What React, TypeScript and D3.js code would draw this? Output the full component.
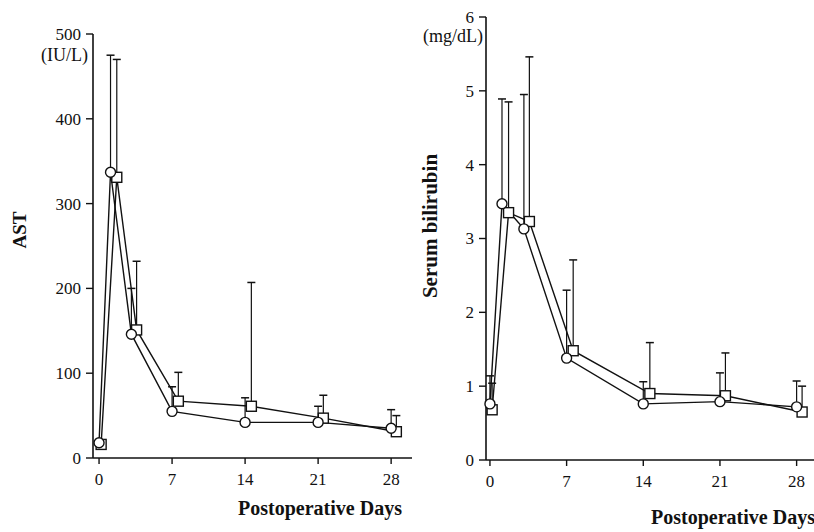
import React from 'react';
import * as d3 from 'd3';

// days at which each group was plotted (squares are nudged right in the original)
const circleDays = [0, 1.1, 3.1, 7, 14, 21, 28];
const squareDays = [0.2, 1.7, 3.6, 7.6, 14.6, 21.5, 28.5];
const dayTicks = [0, 7, 14, 21, 28];

// AST (IU/L)
const astCircle = [18, 337, 146, 55, 42, 42, 35];
const astCircleErr = [18, 475, 200, 84, 71, 61, 57];
const astSquare = [16, 331, 151, 67, 61, 47, 31];
const astSquareErr = [16, 470, 232, 101, 207, 74, 50];
const astTicks = [0, 100, 200, 300, 400, 500];

// Serum bilirubin (mg/dL)
const bilCircle = [0.76, 3.47, 3.13, 1.38, 0.76, 0.79, 0.72];
const bilCircleErr = [1.14, 4.89, 4.95, 2.3, 1.06, 1.18, 1.07];
const bilSquare = [0.68, 3.35, 3.23, 1.48, 0.9, 0.87, 0.65];
const bilSquareErr = [1.04, 4.85, 5.46, 2.71, 1.59, 1.45, 1.0];
const bilTicks = [0, 1, 2, 3, 4, 5, 6];

const config = {
    font: '"Liberation Serif", "Times New Roman", serif',
    stroke: '#111',
    capHalf: 4,
    circleR: 5,
    squareSize: 10
};

function Panel(props) {
    const { xDomain, xRange, yDomain, yRange, yTicks, unit, unitPos, title, titlePos, titleSize, xTitlePos,
        cVals, cErr, sVals, sErr } = props;
    const x = d3.scaleLinear().domain(xDomain).range(xRange);
    const y = d3.scaleLinear().domain(yDomain).range(yRange);
    const line = d3.line().x(d => x(d[0])).y(d => y(d[1]));
    const cPts = circleDays.map((d, i) => [d, cVals[i]]);
    const sPts = squareDays.map((d, i) => [d, sVals[i]]);
    const axisX = xRange[0];
    const axisY = y(yDomain[0]);
    const f = config.font;
    const st = config.stroke;

    const errBar = (d, v, e, key) => (
        <g key={key}>
            <line x1={x(d)} x2={x(d)} y1={y(v)} y2={y(e)} stroke={st} strokeWidth={1.2} />
            <line x1={x(d) - config.capHalf} x2={x(d) + config.capHalf} y1={y(e)} y2={y(e)} stroke={st} strokeWidth={1.5} />
        </g>
    );

    return (
        <g>
            {/* y axis */}
            <line x1={axisX} x2={axisX} y1={y(yDomain[0])} y2={y(yDomain[1])} stroke={st} strokeWidth={1.6} />
            {yTicks.map(t => (
                <g key={t}>
                    <line x1={axisX - 7} x2={axisX} y1={y(t)} y2={y(t)} stroke={st} strokeWidth={1.4} />
                    <text x={axisX - 12} y={y(t)} dy="0.35em" textAnchor="end" fontFamily={f} fontSize={17} fill={st}>{t}</text>
                </g>
            ))}
            <text x={unitPos[0]} y={unitPos[1]} textAnchor="end" fontFamily={f} fontSize={18} fill={st}>{unit}</text>
            {/* x axis */}
            <line x1={axisX} x2={xRange[1]} y1={axisY} y2={axisY} stroke={st} strokeWidth={1.6} />
            {dayTicks.map(t => (
                <g key={t}>
                    <line x1={x(t)} x2={x(t)} y1={axisY} y2={axisY + 6} stroke={st} strokeWidth={1.4} />
                    <text x={x(t)} y={axisY + 27} textAnchor="middle" fontFamily={f} fontSize={17} fill={st}>{t}</text>
                </g>
            ))}
            <text transform={`translate(${titlePos[0]},${titlePos[1]}) rotate(-90)`} textAnchor="middle"
                fontFamily={f} fontWeight="bold" fontSize={titleSize} fill={st}>{title}</text>
            <text x={xTitlePos[0]} y={xTitlePos[1]} textAnchor="middle" fontFamily={f} fontWeight="bold" fontSize={20} fill={st}>Postoperative Days</text>

            {/* series lines */}
            <path d={line(cPts)} fill="none" stroke={st} strokeWidth={1.4} />
            <path d={line(sPts)} fill="none" stroke={st} strokeWidth={1.4} />

            {/* error bars (upper only) */}
            {circleDays.map((d, i) => errBar(d, cVals[i], cErr[i], 'ce' + i))}
            {squareDays.map((d, i) => errBar(d, sVals[i], sErr[i], 'se' + i))}

            {/* markers */}
            {sPts.map((p, i) => (
                <rect key={'s' + i} x={x(p[0]) - config.squareSize / 2} y={y(p[1]) - config.squareSize / 2}
                    width={config.squareSize} height={config.squareSize} fill="#fff" stroke={st} strokeWidth={1.4} />
            ))}
            {cPts.map((p, i) => (
                <circle key={'c' + i} cx={x(p[0])} cy={y(p[1])} r={config.circleR} fill="#fff" stroke={st} strokeWidth={1.4} />
            ))}
        </g>
    );
}

export default function App() {
    return (
        <svg width={814} height={532} style={{ position: 'absolute', left: 0, top: 0, background: '#fff' }}>
            <Panel
                xDomain={[-0.58, 30]} xRange={[93, 412]}
                yDomain={[0, 500]} yRange={[458, 34]} yTicks={astTicks}
                unit="(IU/L)" unitPos={[88, 61]}
                title="AST" titlePos={[26, 230]} titleSize={19} xTitlePos={[320, 515]}
                cVals={astCircle} cErr={astCircleErr} sVals={astSquare} sErr={astSquareErr}
            />
            <Panel
                xDomain={[-0.36, 30.5]} xRange={[486, 824]}
                yDomain={[0, 6]} yRange={[460, 17]} yTicks={bilTicks}
                unit="(mg/dL)" unitPos={[483, 42]}
                title="Serum bilirubin" titlePos={[437, 226]} titleSize={21} xTitlePos={[733, 524]}
                cVals={bilCircle} cErr={bilCircleErr} sVals={bilSquare} sErr={bilSquareErr}
            />
        </svg>
    );
}
